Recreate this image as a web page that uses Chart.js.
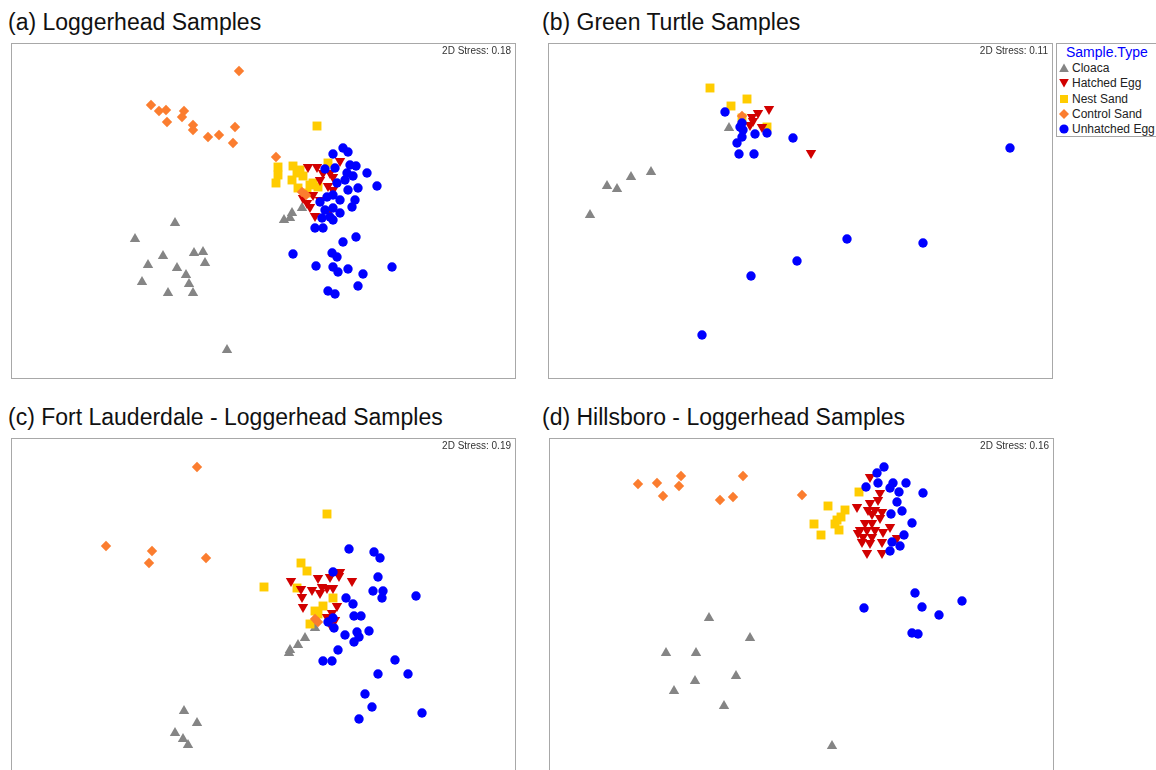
<!DOCTYPE html>
<html>
<head>
<meta charset="utf-8">
<script src="https://cdn.jsdelivr.net/npm/chart.js@4.4.1/dist/chart.umd.min.js"></script>
<style>
body{margin:0;background:#fff;width:1156px;height:770px;overflow:hidden;position:relative;font-family:"Liberation Sans",Arial,sans-serif}
.ttl{position:absolute;font-size:23px;line-height:26px;color:#111;white-space:nowrap}
canvas{position:absolute}
#legend{position:absolute;left:1056px;top:43px;width:130px;height:94px;border:1px solid #a6a6a6;box-sizing:border-box}
#legend .head{position:absolute;left:9px;top:-1px;font-size:14px;line-height:18px;color:#0000ff}
#legend .it{position:absolute;left:2px;font-size:12px;line-height:15px;color:#222;white-space:nowrap}
#legend svg{vertical-align:-1px;margin-right:3px}
</style>
</head>
<body>
<div class="ttl" style="left:8px;top:9px">(a) Loggerhead Samples</div>
<div class="ttl" style="left:542px;top:9px">(b) Green Turtle Samples</div>
<div class="ttl" style="left:8px;top:404px">(c) Fort Lauderdale - Loggerhead Samples</div>
<div class="ttl" style="left:542px;top:404px">(d) Hillsboro - Loggerhead Samples</div>
<canvas id="pa" width="505" height="336" style="left:11px;top:43px"></canvas>
<canvas id="pb" width="505" height="336" style="left:548px;top:43px"></canvas>
<canvas id="pc" width="505" height="336" style="left:11px;top:438px"></canvas>
<canvas id="pd" width="505" height="336" style="left:549px;top:438px"></canvas>
<div id="legend"></div>
<script>
// sample types, in legend order
var types = ['Cloaca', 'Hatched Egg', 'Nest Sand', 'Control Sand', 'Unhatched Egg']
var colors = ['#858585', '#d10000', '#ffcc00', '#fb7d2f', '#0000ff']
var stress = ['0.18', '0.11', '0.19', '0.16']

// (a) Loggerhead
var a_cloaca = [[164,156],[124,140],[152,123],[183,126],[192,127],[137,114],[166,111],[194,116],[175,104],[131,97],[178,95],[157,86],[182,86],[216,29],[273,159],[281,166],[279,161],[291,171]]
var a_hatched = [[329,218],[297,212],[306,212],[312,206],[309,199],[322,202],[319,206],[317,193],[322,189],[296,176],[299,172],[304,163],[319,169],[292,181],[309,179],[302,184]]
var a_nest = [[306,253],[267,212],[267,204],[265,196],[282,213],[286,206],[281,199],[292,203],[299,194],[296,186],[287,191],[317,216],[302,196],[307,192],[289,209]]
var a_control = [[228,308],[140,274],[148,268],[155,269],[156,257],[173,268],[171,262],[182,254],[182,249],[197,242],[208,244],[224,252],[222,236],[265,222],[291,187],[295,184]]
var a_unhatched = [[332,231],[337,227],[322,225],[339,214],[345,213],[356,206],[366,193],[324,211],[314,210],[336,206],[342,203],[334,199],[347,191],[337,189],[326,196],[322,184],[316,182],[309,177],[329,179],[344,179],[341,172],[314,169],[322,171],[329,166],[319,162],[311,161],[322,159],[304,151],[312,151],[345,142],[332,137],[282,125],[321,126],[326,122],[305,113],[322,112],[327,107],[337,110],[352,105],[381,112],[347,93],[317,88],[324,85]]

// (b) Green Turtle
var b_cloaca = [[181,251],[103,207],[83,202],[69,190],[59,193],[42,164]]
var b_hatched = [[221,270],[210,266],[204,262],[202,254],[214,252],[205,258],[263,226]]
var b_nest = [[162,291],[183,273],[199,280],[219,252],[194,261]]
var b_control = [[194,263]]
var b_unhatched = [[177,267],[194,256],[195,249],[194,242],[189,236],[207,245],[219,246],[245,241],[191,225],[206,225],[192,252],[462,231],[299,140],[375,136],[249,118],[203,103],[154,44]]

// (c) Fort Lauderdale - Loggerhead
var c_cloaca = [[304,146],[294,136],[287,129],[279,124],[278,121],[173,63],[186,51],[164,41],[172,35],[177,29]]
var c_hatched = [[280,193],[290,185],[291,177],[292,167],[301,184],[307,196],[311,187],[316,186],[319,197],[328,198],[341,193],[322,186],[309,181],[326,168],[321,161],[316,157],[324,154],[319,150],[329,202]]
var c_nest = [[316,260],[253,187],[290,211],[296,203],[286,186],[322,176],[312,168],[304,163],[299,150],[307,160]]
var c_control = [[186,307],[95,228],[141,223],[138,211],[195,216],[304,155],[307,152]]
var c_unhatched = [[338,225],[363,222],[369,216],[367,197],[362,183],[372,183],[371,176],[405,178],[322,202],[335,176],[342,170],[343,158],[350,158],[322,156],[317,152],[323,146],[334,139],[346,142],[348,137],[358,143],[343,132],[327,124],[312,113],[321,113],[384,114],[367,100],[397,100],[354,80],[361,67],[411,61],[348,55]]

// (d) Hillsboro - Loggerhead
var d_cloaca = [[160,156],[201,136],[117,121],[147,121],[187,98],[146,93],[125,83],[175,68],[283,28]]
var d_hatched = [[321,297],[331,281],[329,274],[308,267],[321,271],[319,264],[326,264],[333,262],[323,260],[331,256],[316,251],[323,251],[341,247],[311,244],[318,244],[326,244],[334,242],[314,237],[323,237],[313,232],[321,231],[333,232],[348,236],[318,221],[333,221],[309,241]]
var d_nest = [[310,282],[279,268],[296,264],[292,257],[288,254],[286,250],[265,250],[272,239],[290,244]]
var d_control = [[89,290],[108,291],[132,298],[130,288],[114,278],[194,298],[171,274],[184,277],[253,279]]
var d_unhatched = [[335,307],[328,301],[317,287],[329,291],[341,286],[344,291],[357,291],[350,282],[374,281],[348,272],[353,263],[342,260],[363,251],[355,239],[343,232],[351,228],[341,223],[366,181],[315,166],[373,167],[390,159],[413,173],[363,141],[369,140]]

var shapes = [
  {pointStyle:'triangle', radius:6, rotation:0, order:5},
  {pointStyle:'triangle', radius:6, rotation:180, order:3},
  {pointStyle:'rect', radius:6.3, rotation:0, order:4},
  {pointStyle:'rectRot', radius:5.2, rotation:0, order:2},
  {pointStyle:'circle', radius:4.7, rotation:0, order:1}
]

var frame = {
  id: 'frame',
  beforeDatasetsDraw: function(chart, args, opts) {
    var ctx = chart.ctx, a = chart.chartArea
    ctx.save()
    ctx.strokeStyle = '#a8a8a8'
    ctx.lineWidth = 1
    ctx.strokeRect(a.left + 0.5, a.top + 0.5, a.width - 1, a.height - 1)
    ctx.fillStyle = '#333'
    ctx.font = '10px "Liberation Sans", Arial, sans-serif'
    ctx.textAlign = 'right'
    ctx.textBaseline = 'middle'
    ctx.fillText('2D Stress: ' + opts.text, a.right - 5, a.top + 8)
    ctx.restore()
  }
}

function toXY(arr){
  return arr.map(function(p){ return {x:p[0], y:p[1]} })
}

function makePanel(id, groups, st){
  var datasets = groups.map(function(g, i){
    var s = shapes[i]
    return {
      label: types[i],
      data: toXY(g),
      pointStyle: s.pointStyle,
      pointRadius: s.radius,
      pointRotation: s.rotation,
      backgroundColor: colors[i],
      borderColor: colors[i],
      borderWidth: 0,
      order: s.order,
      clip: false
    }
  })
  new Chart(document.getElementById(id), {
    type: 'scatter',
    data: {datasets: datasets},
    options: {
      responsive: false,
      animation: false,
      layout: {padding: 0, autoPadding: false},
      events: [],
      plugins: {legend: {display:false}, tooltip: {enabled:false}, frame: {text: st}},
      scales: {
        x: {type:'linear', display:false, min:0, max:505},
        y: {type:'linear', display:false, min:0, max:336}
      }
    },
    plugins: [frame]
  })
}

makePanel('pa', [a_cloaca, a_hatched, a_nest, a_control, a_unhatched], stress[0])
makePanel('pb', [b_cloaca, b_hatched, b_nest, b_control, b_unhatched], stress[1])
makePanel('pc', [c_cloaca, c_hatched, c_nest, c_control, c_unhatched], stress[2])
makePanel('pd', [d_cloaca, d_hatched, d_nest, d_control, d_unhatched], stress[3])

// legend
var symbols = [
  '<polygon points="5,0.5 9.8,9 0.2,9"/>',
  '<polygon points="0.2,1 9.8,1 5,9.5"/>',
  '<rect x="1" y="1" width="8" height="8"/>',
  '<polygon points="5,0 10,5 5,10 0,5"/>',
  '<circle cx="5" cy="5" r="4.6"/>'
]
var lg = document.getElementById('legend')
var html = '<div class="head">Sample.Type</div>'
types.forEach(function(t, i){
  html += '<div class="it" style="top:' + (17 + i * 15.3) + 'px"><svg width="10" height="10" fill="' + colors[i] + '">' + symbols[i] + '</svg>' + t + '</div>'
})
lg.innerHTML = html
</script>
</body>
</html>
